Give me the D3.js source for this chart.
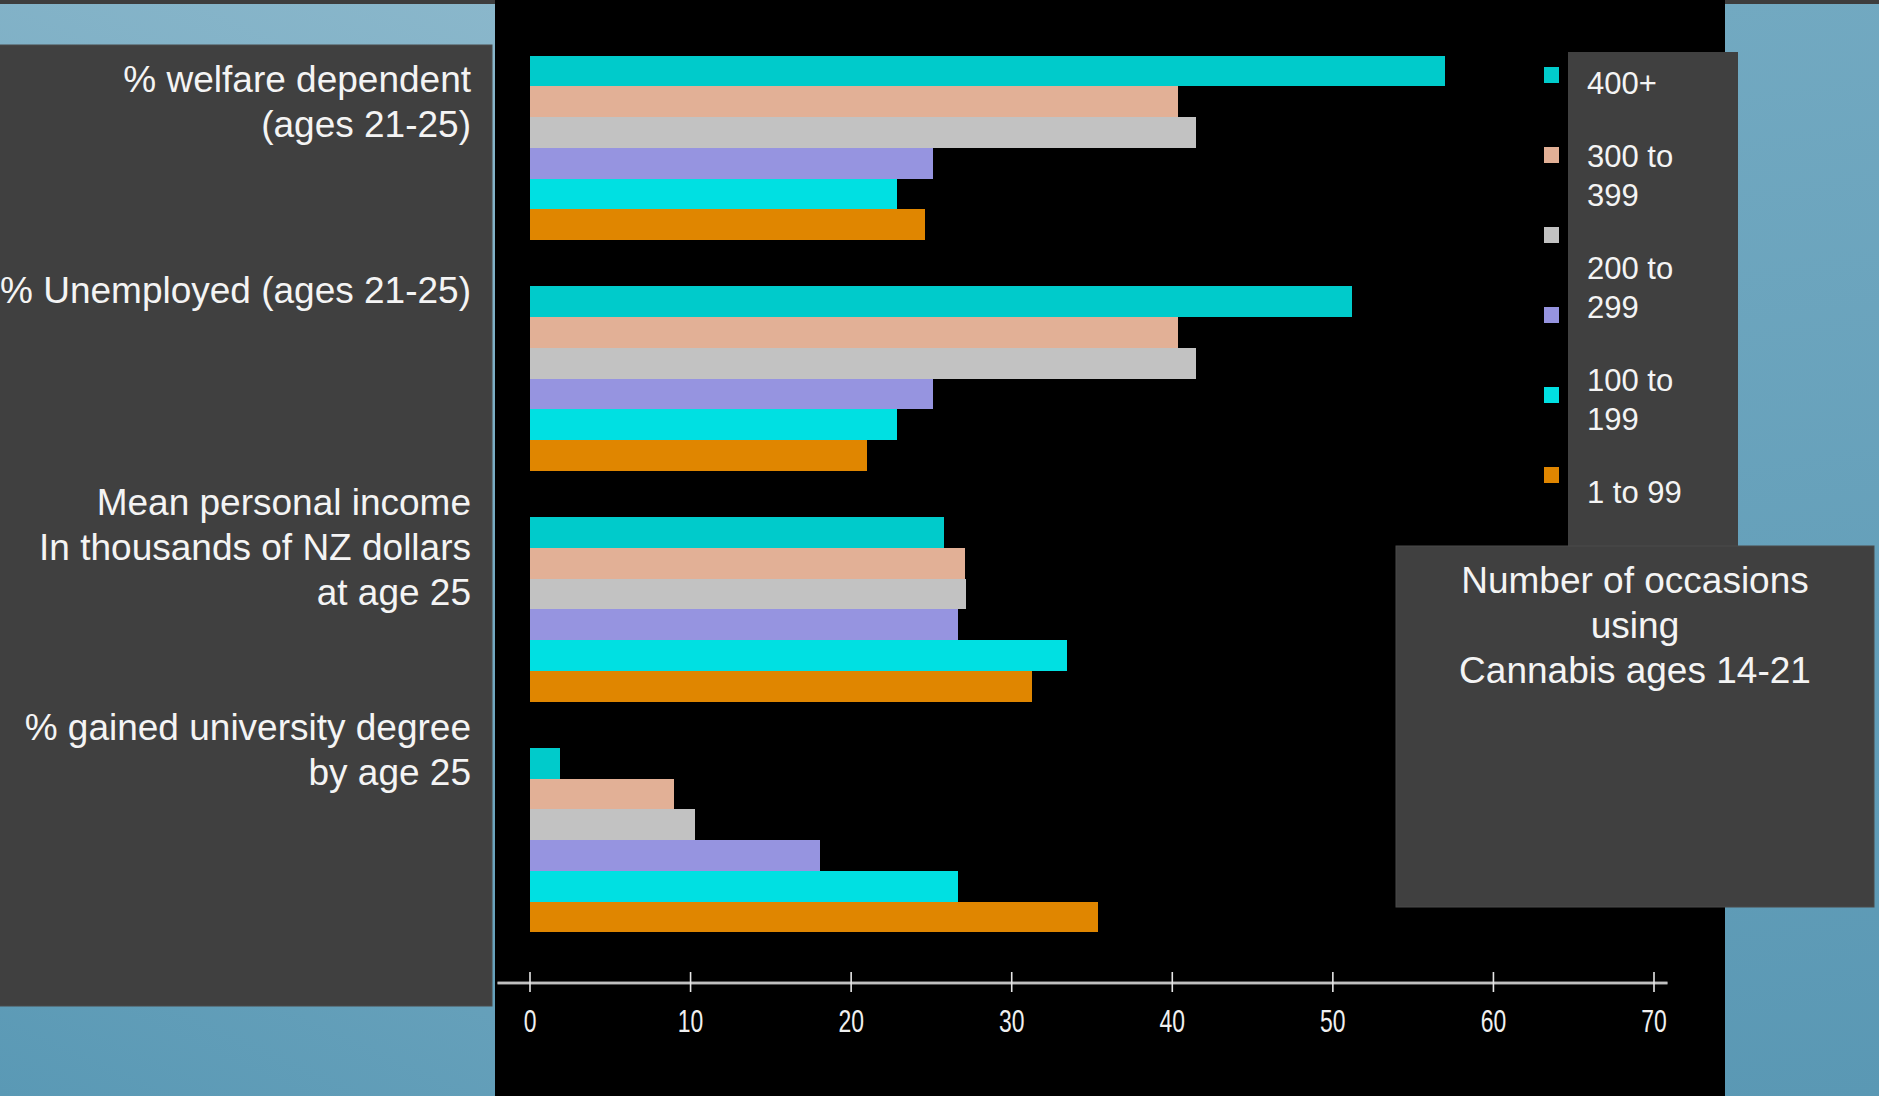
<!DOCTYPE html>
<html>
<head>
<meta charset="utf-8">
<script src="https://cdn.jsdelivr.net/npm/d3@7"></script>
<style>
  html, body { margin: 0; padding: 0; background: #000; }
  svg { display: block; }
  text { font-family: "Liberation Sans", Arial, sans-serif; }
</style>
</head>
<body>
<svg id="chart" width="1879" height="1096"></svg>
<script>
// ---------------- DATA ----------------
const categories = [
  "% welfare dependent (ages 21-25)",
  "% Unemployed (ages 21-25)",
  "Mean personal income In thousands of NZ dollars at age 25",
  "% gained university degree by age 25"
];
const categoryLabelLines = [
  ["% welfare dependent", "(ages 21-25)"],
  ["% Unemployed (ages 21-25)"],
  ["Mean personal income", "In thousands of NZ dollars", "at age 25"],
  ["% gained university degree", "by age 25"]
];
// series in drawing order (top bar to bottom bar of each group)
const seriesKeys = ["400+", "300 to 399", "200 to 299", "series 4", "100 to 199", "1 to 99"];
const seriesColors = ["#00CBCB", "#E2B096", "#C2C2C2", "#9694E0", "#00E0E2", "#E08600"];
const values400   = [57.0, 51.2, 25.8, 1.9];
const values300   = [40.4, 40.4, 27.1, 9.0];
const values200   = [41.5, 41.5, 27.2, 10.3];
const valuesS4    = [25.1, 25.1, 26.7, 18.1];
const values100   = [22.9, 22.9, 33.5, 26.7];
const values1     = [24.6, 21.0, 31.3, 35.4];
const seriesValues = [values400, values300, values200, valuesS4, values100, values1];
const xTicks = [0, 10, 20, 30, 40, 50, 60, 70];
const legendParagraphs = [["400+"], ["300 to", "399"], ["200 to", "299"], ["100 to", "199"], ["1 to 99"]];
const titleLines = ["Number of occasions", "using", "Cannabis ages 14-21"];

// ---------------- LAYOUT ----------------
const W = 1879, H = 1096;
const svg = d3.select("#chart");
const defs = svg.append("defs");

const gl = defs.append("linearGradient").attr("id", "bgLeft")
  .attr("gradientUnits", "userSpaceOnUse")
  .attr("x1", 0).attr("y1", 1096).attr("x2", 495).attr("y2", 0);
gl.append("stop").attr("offset", "0%").attr("stop-color", "#5a99b5");
gl.append("stop").attr("offset", "100%").attr("stop-color", "#8ab7cb");
const gr = defs.append("linearGradient").attr("id", "bgRight")
  .attr("gradientUnits", "userSpaceOnUse")
  .attr("x1", 1725).attr("y1", 0).attr("x2", 1879).attr("y2", 1096);
gr.append("stop").attr("offset", "0%").attr("stop-color", "#72a9c1");
gr.append("stop").attr("offset", "100%").attr("stop-color", "#5a98b4");

svg.append("rect").attr("x", 0).attr("y", 0).attr("width", 495).attr("height", H).attr("fill", "url(#bgLeft)");
svg.append("rect").attr("x", 1725).attr("y", 0).attr("width", W - 1725).attr("height", H).attr("fill", "url(#bgRight)");
svg.append("rect").attr("x", 0).attr("y", 0).attr("width", W).attr("height", 4).attr("fill", "#3d3d3d");

// left label panel
svg.append("rect").attr("x", -1).attr("y", 45).attr("width", 493).attr("height", 961)
  .attr("fill", "#404040").attr("stroke", "#4a4a4a").attr("stroke-width", 1);

// black chart area
svg.append("rect").attr("x", 495).attr("y", 0).attr("width", 1230).attr("height", H).attr("fill", "#000");

// scales
const x = d3.scaleLinear().domain([0, 70]).range([529.5, 1653.5]);
const y = d3.scaleBand().domain(categories).range([55.7, 932.3]).paddingInner(0.2).paddingOuter(0);
const ySub = d3.scaleBand().domain(seriesKeys).range([0, y.bandwidth()]).padding(0);
const color = d3.scaleOrdinal().domain(seriesKeys).range(seriesColors);

// bars
const rows = [];
categories.forEach((c, ci) => {
  seriesKeys.forEach((s, si) => rows.push({ cat: c, key: s, value: seriesValues[si][ci] }));
});
svg.append("g").attr("shape-rendering", "crispEdges").selectAll("rect").data(rows).join("rect")
  .attr("x", x(0))
  .attr("y", d => y(d.cat) + ySub(d.key))
  .attr("width", d => x(d.value) - x(0))
  .attr("height", ySub.bandwidth())
  .attr("fill", d => color(d.key));

// axis
const axisY = 983;
svg.append("line")
  .attr("x1", x(0) - 32).attr("x2", x(70) + 14)
  .attr("y1", axisY).attr("y2", axisY)
  .attr("stroke", "#a8a8a8").attr("stroke-width", 3);
svg.append("line")
  .attr("x1", x(0) - 32).attr("x2", x(70) + 14)
  .attr("y1", axisY).attr("y2", axisY)
  .attr("stroke", "#d8d8d8").attr("stroke-width", 1);
const axis = d3.axisBottom(x).tickValues(xTicks).tickFormat(d3.format("d")).tickSizeOuter(0);
const gAxis = svg.append("g").attr("transform", `translate(0,${axisY})`).call(axis);
gAxis.select(".domain").remove();
gAxis.selectAll(".tick line").attr("y1", -11).attr("y2", 9).attr("stroke", "#e6e6e6").attr("stroke-width", 1.6);
gAxis.selectAll(".tick text")
  .attr("y", 49).attr("dy", 0)
  .attr("fill", "#f0f0f0")
  .attr("font-size", 31)
  .attr("font-family", "'Liberation Sans', Arial, sans-serif")
  .attr("transform", "scale(0.74,1)");

// left category labels
const labelBaselines = [92, 303, 515, 740];
const labelLineH = 45;
const gLab = svg.append("g");
categoryLabelLines.forEach((lines, i) => {
  const t = gLab.append("text")
    .attr("x", 471).attr("y", labelBaselines[i])
    .attr("text-anchor", "end").attr("fill", "#f4f4f4").attr("font-size", 37);
  lines.forEach((ln, j) => t.append("tspan").attr("x", 471).attr("y", labelBaselines[i] + j * labelLineH).text(ln));
});

// legend squares
const legSq = d3.scalePoint().domain(seriesKeys).range([75, 475]);
svg.append("g").selectAll("rect").data(seriesKeys).join("rect")
  .attr("x", 1544).attr("y", d => legSq(d) - 8)
  .attr("width", 15).attr("height", 16)
  .attr("fill", d => color(d));

// legend box + text
svg.append("rect").attr("x", 1568).attr("y", 52).attr("width", 170).attr("height", 494).attr("fill", "#404040");
const legendBaselines = [94, 167, 279, 391, 503];
const legendLineH = 38.7;
const lt = svg.append("text").attr("fill", "#f4f4f4").attr("font-size", 31);
legendParagraphs.forEach((para, i) => {
  para.forEach((ln, j) => lt.append("tspan").attr("x", 1587).attr("y", legendBaselines[i] + j * legendLineH).text(ln));
});

// title box
svg.append("rect").attr("x", 1396).attr("y", 546).attr("width", 478).attr("height", 361)
  .attr("fill", "#404040").attr("stroke", "#4a4a4a").attr("stroke-width", 1);
const tt = svg.append("text").attr("fill", "#f4f4f4").attr("font-size", 37).attr("text-anchor", "middle");
titleLines.forEach((ln, i) => tt.append("tspan").attr("x", 1635).attr("y", 593 + i * 45).text(ln));
</script>
</body>
</html>
